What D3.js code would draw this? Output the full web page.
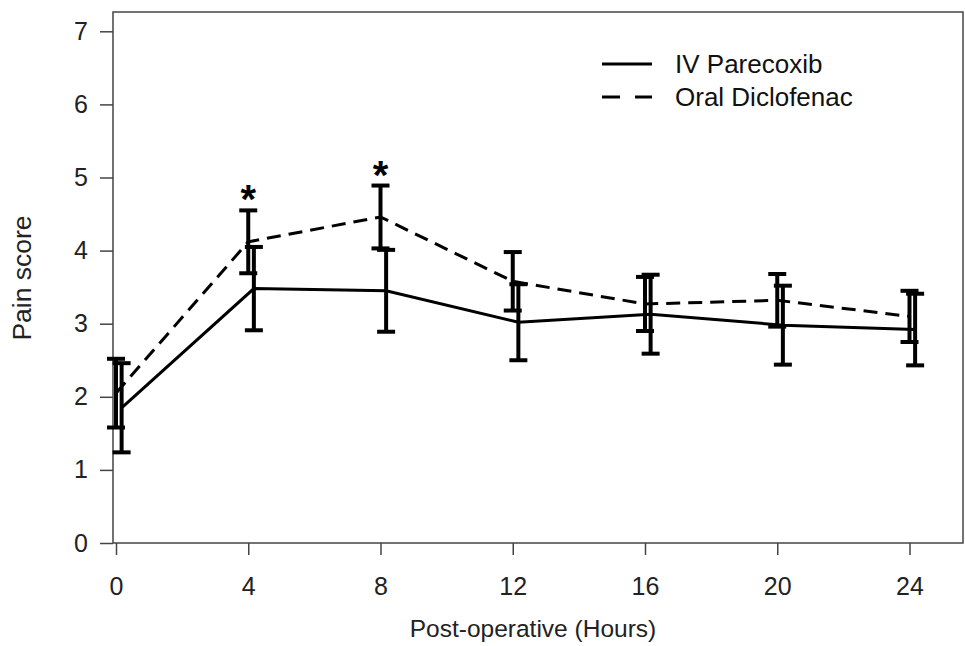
<!DOCTYPE html>
<html><head><meta charset="utf-8">
<script src="https://cdn.jsdelivr.net/npm/d3@7"></script>
<style>body{margin:0;background:#fff}svg{display:block}text{font-family:"Liberation Sans",Arial,sans-serif}</style>
</head><body>
<svg id="c" width="965" height="646"></svg>
<script>
const hours = [0, 4, 8, 12, 16, 20, 24];
const parecoxibMean = [1.85, 3.48, 3.45, 3.02, 3.13, 2.98, 2.92];
const parecoxibErr  = [0.61, 0.57, 0.56, 0.52, 0.54, 0.54, 0.49];
const diclofenacMean = [2.05, 4.12, 4.46, 3.58, 3.27, 3.32, 3.10];
const diclofenacErr  = [0.47, 0.43, 0.43, 0.40, 0.37, 0.36, 0.35];
const yTicks = [0, 1, 2, 3, 4, 5, 6, 7];
const xTicks = [0, 4, 8, 12, 16, 20, 24];
const significant = [4, 8];
const seriesNames = ["IV Parecoxib", "Oral Diclofenac"];

const svg = d3.select("#c");
const x = d3.scaleLinear().domain([0, 24]).range([116, 909.5]);
const y = d3.scaleLinear().domain([0, 7]).range([543, 31.3]);
const box = {l: 113, t: 12, r: 963, b: 543};
const axisColor = "#444";

// box
svg.append("rect").attr("x", box.l).attr("y", box.t)
  .attr("width", box.r - box.l).attr("height", box.b - box.t)
  .attr("fill", "none").attr("stroke", axisColor).attr("stroke-width", 1.5);

// y axis
const yAxis = svg.append("g").attr("transform", `translate(${box.l},0)`)
  .call(d3.axisLeft(y).tickValues(yTicks).tickSize(13).tickPadding(12).tickFormat(d3.format("d")));
yAxis.select(".domain").remove();
yAxis.selectAll("line").attr("stroke", axisColor).attr("stroke-width", 1.5);
yAxis.selectAll("text").attr("font-size", 25).attr("fill", "#222");

// x axis
const xAxis = svg.append("g").attr("transform", `translate(0,${box.b})`)
  .call(d3.axisBottom(x).tickValues(xTicks).tickSize(12).tickPadding(40).tickFormat(d3.format("d")));
xAxis.select(".domain").remove();
xAxis.selectAll("line").attr("stroke", axisColor).attr("stroke-width", 1.5);
xAxis.selectAll("text").attr("font-size", 25).attr("fill", "#222").attr("dy", "0");

// axis titles
svg.append("text").attr("x", 533).attr("y", 637).attr("text-anchor", "middle")
  .attr("font-size", 24.5).attr("fill", "#222").text("Post-operative (Hours)");
svg.append("text").attr("transform", "translate(31,278) rotate(-90)").attr("text-anchor", "middle")
  .attr("font-size", 26.5).attr("fill", "#222").text("Pain score");

const solidOffset = 0.17;
const series = [
  {mean: diclofenacMean, err: diclofenacErr, dash: "14,8", off: 0},
  {mean: parecoxibMean, err: parecoxibErr, dash: null, off: solidOffset}
];
const capHalf = 9;
series.forEach(s => {
  const pts = hours.map((h, i) => [x(h + s.off), y(s.mean[i])]);
  const line = d3.line();
  svg.append("path").attr("d", line(pts)).attr("fill", "none")
    .attr("stroke", "#000").attr("stroke-width", 3)
    .attr("stroke-dasharray", s.dash);
  const g = svg.append("g").attr("stroke", "#000").attr("stroke-width", 4);
  hours.forEach((h, i) => {
    const cx = x(h + s.off);
    const lo = y(s.mean[i] - s.err[i]), hi = y(s.mean[i] + s.err[i]);
    g.append("line").attr("x1", cx).attr("x2", cx).attr("y1", lo).attr("y2", hi);
    g.append("line").attr("x1", cx - capHalf).attr("x2", cx + capHalf).attr("y1", lo).attr("y2", lo);
    g.append("line").attr("x1", cx - capHalf).attr("x2", cx + capHalf).attr("y1", hi).attr("y2", hi);
  });
});

// asterisks
significant.forEach(h => {
  const i = hours.indexOf(h);
  svg.append("text").attr("x", x(h)).attr("y", y(diclofenacMean[i] + diclofenacErr[i]) + 3)
    .attr("text-anchor", "middle").attr("font-size", 40).attr("font-weight", "bold")
    .attr("fill", "#000").text("*");
});

// legend
const legend = [{name: seriesNames[0], dash: null, yy: 64}, {name: seriesNames[1], dash: "18,15", yy: 97}];
legend.forEach(l => {
  svg.append("line").attr("x1", 602).attr("x2", 652).attr("y1", l.yy).attr("y2", l.yy)
    .attr("stroke", "#000").attr("stroke-width", 3).attr("stroke-dasharray", l.dash);
  svg.append("text").attr("x", 675).attr("y", l.yy).attr("dy", "0.35em")
    .attr("font-size", 26).attr("fill", "#111").text(l.name);
});
</script>
</body></html>
